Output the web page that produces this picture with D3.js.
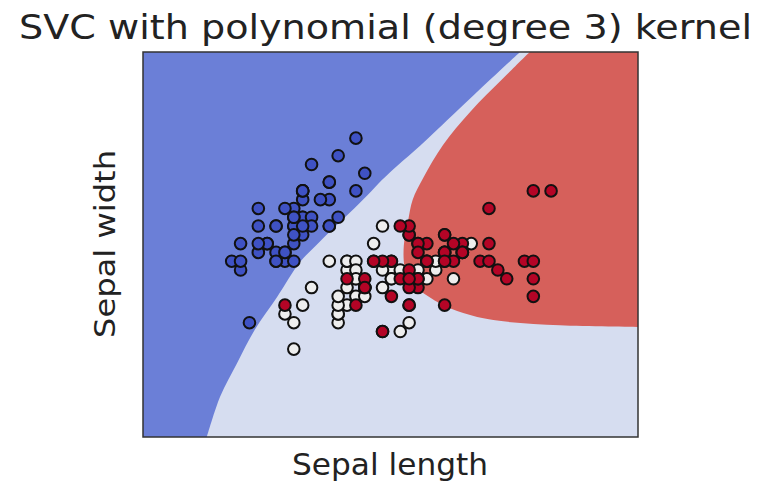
<!DOCTYPE html>
<html>
<head>
<meta charset="utf-8">
<script src="https://cdn.jsdelivr.net/npm/d3@7"></script>
<style>
  body { margin: 0; background: #fff; }
  text { font-family: "DejaVu Sans", sans-serif; fill: #222; }
</style>
</head>
<body>
<div></div>
<script>
// iris: sepal length / sepal width per class
const setosa = [
  [5.1,3.5],[4.9,3.0],[4.7,3.2],[4.6,3.1],[5.0,3.6],[5.4,3.9],[4.6,3.4],[5.0,3.4],[4.4,2.9],[4.9,3.1],
  [5.4,3.7],[4.8,3.4],[4.8,3.0],[4.3,3.0],[5.8,4.0],[5.7,4.4],[5.4,3.9],[5.1,3.5],[5.7,3.8],[5.1,3.8],
  [5.4,3.4],[5.1,3.7],[4.6,3.6],[5.1,3.3],[4.8,3.4],[5.0,3.0],[5.0,3.4],[5.2,3.5],[5.2,3.4],[4.7,3.2],
  [4.8,3.1],[5.4,3.4],[5.2,4.1],[5.5,4.2],[4.9,3.1],[5.0,3.2],[5.5,3.5],[4.9,3.6],[4.4,3.0],[5.1,3.4],
  [5.0,3.5],[4.5,2.3],[4.4,3.2],[5.0,3.5],[5.1,3.8],[4.8,3.0],[5.1,3.8],[4.6,3.2],[5.3,3.7],[5.0,3.3]
];
const versicolor = [
  [7.0,3.2],[6.4,3.2],[6.9,3.1],[5.5,2.3],[6.5,2.8],[5.7,2.8],[6.3,3.3],[4.9,2.4],[6.6,2.9],[5.2,2.7],
  [5.0,2.0],[5.9,3.0],[6.0,2.2],[6.1,2.9],[5.6,2.9],[6.7,3.1],[5.6,3.0],[5.8,2.7],[6.2,2.2],[5.6,2.5],
  [5.9,3.2],[6.1,2.8],[6.3,2.5],[6.1,2.8],[6.4,2.9],[6.6,3.0],[6.8,2.8],[6.7,3.0],[6.0,2.9],[5.7,2.6],
  [5.5,2.4],[5.5,2.4],[5.8,2.7],[6.0,2.7],[5.4,3.0],[6.0,3.4],[6.7,3.1],[6.3,2.3],[5.6,3.0],[5.5,2.5],
  [5.5,2.6],[6.1,3.0],[5.8,2.6],[5.0,2.3],[5.6,2.7],[5.7,3.0],[5.7,2.9],[6.2,2.9],[5.1,2.5],[5.7,2.8]
];
const virginica = [
  [6.3,3.3],[5.8,2.7],[7.1,3.0],[6.3,2.9],[6.5,3.0],[7.6,3.0],[4.9,2.5],[7.3,2.9],[6.7,2.5],[7.2,3.6],
  [6.5,3.2],[6.4,2.7],[6.8,3.0],[5.7,2.5],[5.8,2.8],[6.4,3.2],[6.5,3.0],[7.7,3.8],[7.7,2.6],[6.0,2.2],
  [6.9,3.2],[5.6,2.8],[7.7,2.8],[6.3,2.7],[6.7,3.3],[7.2,3.2],[6.2,2.8],[6.1,3.0],[6.4,2.8],[7.2,3.0],
  [7.4,2.8],[7.9,3.8],[6.4,2.8],[6.3,2.8],[6.1,2.6],[7.7,3.0],[6.3,3.4],[6.4,3.1],[6.0,3.0],[6.9,3.1],
  [6.7,3.1],[6.9,3.1],[5.8,2.7],[6.8,3.2],[6.7,3.3],[6.7,3.0],[6.3,2.5],[6.5,3.0],[6.2,3.4],[5.9,3.0]
];

// decision boundaries (data units)
const blueEdge = [
  [7.55,5.38],[7.23,5.08],[6.83,4.70],[6.43,4.32],[6.17,4.09],[5.99,3.92],[5.83,3.75],
  [5.63,3.55],[5.43,3.36],[5.25,3.18],[5.07,2.99],[4.81,2.59],[4.56,2.22],[4.36,1.84],
  [4.17,1.46],[4.02,1.0]
];
const redEdge = [
  [7.66,5.38],[7.36,5.08],[6.99,4.70],[6.68,4.32],[6.46,3.95],[6.34,3.70],[6.29,3.47],
  [6.24,3.18],[6.25,2.93],[6.31,2.79],[6.42,2.67],[6.65,2.52],[6.91,2.41],[7.25,2.33],
  [8.00,2.27],[8.88,2.25]
];

const xDomain = [3.3, 8.88];
const yDomain = [1.0, 5.38];

const w = 769;
const h = 487;
const m = { left: 143, right: 638, top: 52, bottom: 437 };

const svg = d3.select("div").append("svg").attr("width", w).attr("height", h);

const x = d3.scaleLinear().domain(xDomain).range([m.left, m.right]);
const y = d3.scaleLinear().domain(yDomain).range([m.bottom, m.top]);

svg.append("clipPath").attr("id", "clip")
  .append("rect").attr("x", m.left).attr("y", m.top)
  .attr("width", m.right - m.left).attr("height", m.bottom - m.top);

const bg = svg.append("g").attr("clip-path", "url(#clip)");
bg.append("rect")
  .attr("x", m.left).attr("y", m.top)
  .attr("width", m.right - m.left).attr("height", m.bottom - m.top)
  .attr("fill", "#d6ddf0");

const edge = d3.line().x(d => x(d[0])).y(d => y(d[1])).curve(d3.curveCatmullRom);

bg.append("path")
  .attr("d", edge(blueEdge) +
    "L" + x(xDomain[0]) + "," + y(yDomain[0]) +
    "L" + x(xDomain[0]) + "," + y(yDomain[1]) + "Z")
  .attr("fill", "#6b7fd7");

bg.append("path")
  .attr("d", edge(redEdge) +
    "L" + x(xDomain[1]) + "," + y(yDomain[1]) + "Z")
  .attr("fill", "#d6605b");

const groups = [
  { data: setosa, color: "#3f52c4" },
  { data: versicolor, color: "#eeeeee" },
  { data: virginica, color: "#b40426" }
];
groups.forEach(g => {
  svg.append("g").selectAll("circle")
    .data(g.data)
    .enter()
    .append("circle")
    .attr("cx", d => x(d[0]))
    .attr("cy", d => y(d[1]))
    .attr("r", 5.8)
    .attr("fill", g.color)
    .attr("stroke", "#111")
    .attr("stroke-width", 2);
});

svg.append("rect")
  .attr("x", m.left).attr("y", m.top)
  .attr("width", m.right - m.left).attr("height", m.bottom - m.top)
  .attr("fill", "none")
  .attr("stroke", "#333")
  .attr("stroke-width", 1.5);

svg.append("text")
  .attr("x", 19).attr("y", 38.5)
  .attr("font-size", 34.5)
  .attr("textLength", 733)
  .attr("lengthAdjust", "spacingAndGlyphs")
  .text("SVC with polynomial (degree 3) kernel");

svg.append("text")
  .attr("x", 292).attr("y", 475)
  .attr("font-size", 30)
  .attr("textLength", 196)
  .attr("lengthAdjust", "spacingAndGlyphs")
  .text("Sepal length");

svg.append("text")
  .attr("transform", "translate(115,338) rotate(-90)")
  .attr("font-size", 29)
  .attr("textLength", 188)
  .attr("lengthAdjust", "spacingAndGlyphs")
  .text("Sepal width");
</script>
</body>
</html>
